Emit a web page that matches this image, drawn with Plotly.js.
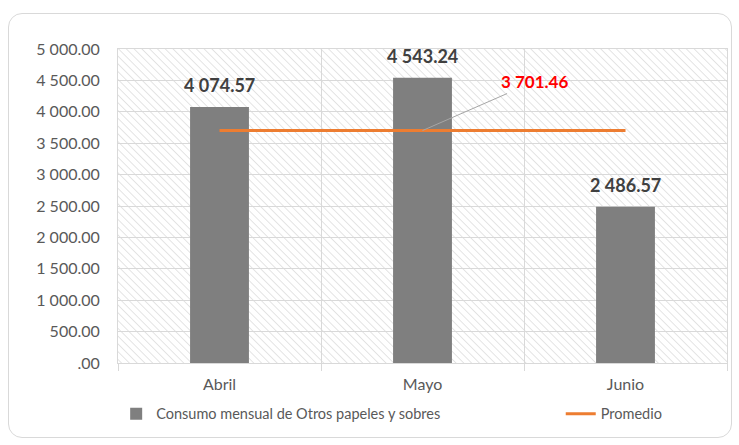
<!DOCTYPE html>
<html>
<head>
<meta charset="utf-8">
<script src="https://cdn.plot.ly/plotly-3.0.1.min.js"></script>
<style>
  html, body { margin: 0; padding: 0; background: #fff; }
  #wrap { position: relative; width: 739px; height: 445px; }
  #chart { width: 739px; height: 445px; }
  #frame { position: absolute; left: 8px; top: 13px; width: 722px; height: 423px;
           border: 1px solid #d9d9d9; border-radius: 14px; pointer-events: none; }
</style>
</head>
<body>
<div id="wrap">
  <div id="chart"></div>
  <div id="frame"></div>
</div>
<script>
const months = ["Abril", "Mayo", "Junio"];
const consumo = [4074.57, 4543.24, 2486.57];
const promedio = [3701.46, 3701.46, 3701.46];
const promedioLabel = "3 701.46";
const barLabels = ["4 074.57", "4 543.24", "2 486.57"];
const yTickVals = [0, 500, 1000, 1500, 2000, 2500, 3000, 3500, 4000, 4500, 5000];
const yTickText = [".00", "500.00", "1 000.00", "1 500.00", "2 000.00", "2 500.00",
                   "3 000.00", "3 500.00", "4 000.00", "4 500.00", "5 000.00"];

const FONT = "Lato, 'Open Sans', sans-serif";

const hatchSvg = '<svg xmlns="http://www.w3.org/2000/svg" width="609" height="314">' +
  '<defs><pattern id="p" width="5.5" height="5.5" patternUnits="userSpaceOnUse" patternTransform="rotate(-45)">' +
  '<line x1="0" y1="0" x2="0" y2="5.5" stroke="#dedede" stroke-width="1.6"/></pattern></defs>' +
  '<rect width="609" height="314" fill="url(#p)"/></svg>';
const hatchUri = 'data:image/svg+xml;base64,' + btoa(hatchSvg);

const traces = [
  {
    type: "bar",
    x: months,
    y: consumo,
    name: "Consumo mensual de Otros papeles y sobres",
    marker: { color: "#7f7f7f" },
    width: 0.29,
    legend: "legend",
    hoverinfo: "x+y"
  },
  {
    type: "scatter",
    mode: "lines",
    x: months,
    y: promedio,
    name: "Promedio",
    legend: "legend2",
    line: { color: "#ED7D31", width: 3 }
  }
];

const annotations = months.map((m, i) => ({
  x: m, y: consumo[i], xref: "x", yref: "y",
  text: "<b>" + barLabels[i] + "</b>",
  showarrow: false, yanchor: "bottom", yshift: 9,
  font: { family: FONT, size: 18, color: "#404040" }
}));
annotations.push({
  x: months[1], y: promedio[1], xref: "x", yref: "y",
  text: "<b>" + promedioLabel + "</b>",
  showarrow: true, arrowhead: 0, arrowwidth: 1, arrowcolor: "#a6a6a6",
  ax: 112, ay: -49, standoff: 0,
  font: { family: FONT, size: 17, color: "#ff0000" }
});

const legendCommon = {
  orientation: "h", xanchor: "left", y: -0.162, yanchor: "middle",
  font: { family: FONT, size: 14.5, color: "#595959" },
  bgcolor: "rgba(0,0,0,0)"
};

const layout = {
  width: 739, height: 445,
  margin: { l: 118, r: 12, t: 49, b: 82 },
  paper_bgcolor: "#ffffff",
  plot_bgcolor: "rgba(0,0,0,0)",
  separators: ". ",
  font: { family: FONT, size: 13, color: "#595959" },
  showlegend: true,
  legend: Object.assign({ x: -0.003 }, legendCommon),
  legend2: Object.assign({ x: 0.727 }, legendCommon),
  xaxis: {
    type: "category",
    showgrid: true, gridcolor: "#d9d9d9", gridwidth: 1,
    tickson: "boundaries", ticks: "outside", ticklen: 7, tickcolor: "#d9d9d9",
    showline: true, linecolor: "#d9d9d9", linewidth: 1, mirror: true,
    tickfont: { family: FONT, size: 16, color: "#595959" },
    ticklabelstandoff: 7
  },
  yaxis: {
    range: [0, 5000],
    tickvals: yTickVals, ticktext: yTickText,
    showgrid: true, gridcolor: "#d9d9d9", gridwidth: 1,
    zeroline: false,
    showline: true, linecolor: "#d9d9d9", linewidth: 1, mirror: true,
    ticks: "",
    tickfont: { family: FONT, size: 16, color: "#595959" },
    ticklabelstandoff: 14
  },
  images: [{
    source: hatchUri, xref: "paper", yref: "paper",
    x: 0, y: 1, sizex: 1, sizey: 1, xanchor: "left", yanchor: "top",
    sizing: "stretch", layer: "below"
  }],
  annotations: annotations
};

Plotly.newPlot("chart", traces, layout, { displayModeBar: false, staticPlot: true });
</script>
</body>
</html>
